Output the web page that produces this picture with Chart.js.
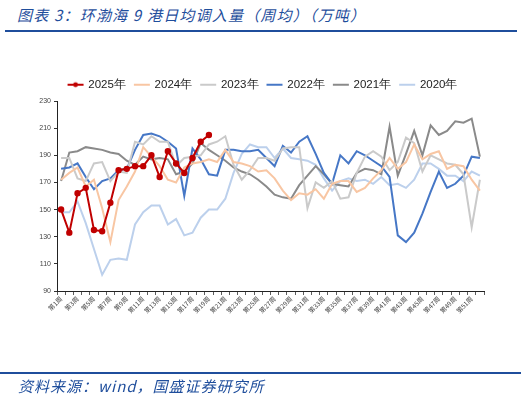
<!DOCTYPE html>
<html>
<head>
<meta charset="utf-8">
<script src="https://cdn.jsdelivr.net/npm/chart.js@4"></script>
<style>
  body { margin: 0; background: #fff; width: 526px; height: 398px; overflow: hidden; position: relative; }
  #titulo { position: absolute; left: 17px; top: 4px; font: italic 15px "Noto Sans CJK SC", sans-serif; color: #1f4e9c; letter-spacing: 1.2px; }
  #linhaTopo { position: absolute; left: 5px; top: 30px; width: 512px; height: 2px; background: #1f4e9c; }
  #linhaBase { position: absolute; left: 0px; top: 372px; width: 521px; height: 2px; background: #1f4e9c; }
  #fonte { position: absolute; left: 18px; top: 375px; font: italic 15px "Noto Sans CJK SC", sans-serif; color: #1f4e9c; letter-spacing: 1px; }
  #grafico { position: absolute; left: 0; top: 0; }
</style>
</head>
<body>
<div id="titulo">图表 3：环渤海 9 港日均调入量（周均）（万吨）</div>
<div id="linhaTopo"></div>
<canvas id="grafico" width="526" height="398"></canvas>
<div id="linhaBase"></div>
<div id="fonte">资料来源：wind，国盛证券研究所</div>
<script>
// semanas 1..52
const semanas = [];
for (let i = 1; i <= 52; i++) semanas.push("第" + i + "周");

const anos = ["2025年", "2024年", "2023年", "2022年", "2021年", "2020年"];
const cores = ["#c00000", "#f8c6a3", "#cacaca", "#4677c6", "#8a8a8a", "#bcd0ec"];

const dados2025 = [150, 133, 162, 166, 135, 134, 155, 179, 180, 182, 182, 190, 174, 193, 184, 177, 188, 200, 205];
const dados2024 = [172, 177, 181, 167, 172, 151, 126, 157, 167, 178, 196, 189, 182, 172, 170, 181, 184, 185,
  187, 185, 194, 185, 184, 182, 178, 179, 173, 164, 157, 162, 161, 165, 158, 169, 171, 171, 163, 166, 173, 179,
  188, 180, 185, 198, 187, 191, 193, 180, 183, 182, 172, 164];
const dados2023 = [188, 188, 173, 171, 184, 185, 171, 178, 177, 200, 198, 204, 200, 200, 182, 188, 189, 190,
  198, 200, 204, 183, 172, 179, 188, 188, 186, 195, 196, 196, 151, 170, 166, 171, 158, 159, 177, 189, 193, 189,
  179, 185, 203, 199, 178, 190, 187, 184, 183, 176, 137, 172];
const dados2022 = [180, 181, 184, 174, 165, 171, 173, 179, 180, 194, 205, 206, 204, 200, 195, 160, 195, 187,
  176, 175, 194, 194, 193, 193, 194, 188, 182, 197, 192, 200, 204, 191, 177, 169, 190, 184, 193, 190, 186, 182,
  174, 131, 126, 133, 147, 163, 178, 166, 169, 175, 189, 188];
const dados2021 = [171, 192, 193, 196, 195, 194, 192, 191, 186, 183, 189, 187, 188, 187, 176, 178, 184, 199,
  194, 190, 186, 181, 178, 176, 172, 167, 161, 159, 158, 168, 175, 182, 176, 169, 168, 167, 177, 180, 179, 176,
  211, 175, 191, 208, 190, 212, 205, 208, 215, 214, 217, 189];
const dados2020 = [148, 148, 156, 140, 121, 102, 113, 114, 113, 139, 148, 153, 153, 139, 143, 131, 133, 144,
  150, 150, 158, 177, 191, 198, 196, 196, 188, 195, 188, 187, 186, 183, 173, 164, 171, 173, 171, 172, 169, 174,
  168, 169, 166, 172, 184, 184, 180, 175, 175, 171, 178, 175];

const series = [dados2025, dados2024, dados2023, dados2022, dados2021, dados2020];

// desenha o simbolo da legenda (linha, e marcador no 2025)
function simboloLegenda(cor, comMarcador) {
  const c = document.createElement("canvas");
  c.width = 18;
  c.height = 8;
  const ctx = c.getContext("2d");
  ctx.strokeStyle = cor;
  ctx.lineWidth = 2;
  ctx.beginPath();
  ctx.moveTo(1, 4);
  ctx.lineTo(17, 4);
  ctx.stroke();
  if (comMarcador) {
    ctx.fillStyle = cor;
    ctx.beginPath();
    ctx.arc(9, 4, 2.4, 0, Math.PI * 2);
    ctx.fill();
  }
  return c;
}

let datasets = [];
for (let i = 0; i < series.length; i++) {
  datasets.push({
    label: anos[i],
    data: series[i],
    borderColor: cores[i],
    backgroundColor: cores[i],
    borderWidth: 2,
    fill: false,
    tension: 0,
    pointRadius: i == 0 ? 2.2 : 0,
    pointHoverRadius: 0,
    pointStyle: "circle",
  });
}

// altura fixa da legenda e um pequeno deslocamento para a direita
const ajusteLegenda = {
  id: "ajusteLegenda",
  beforeInit(chart) {
    const fitOriginal = chart.legend.fit;
    chart.legend.fit = function () {
      fitOriginal.bind(chart.legend)();
      this.height = 31;
    };
  },
  afterLayout(chart) {
    chart.legend.left += 8;
    chart.legend.right += 8;
  },
};

const config = {
  type: "line",
  data: { labels: semanas, datasets: datasets },
  options: {
    responsive: false,
    animation: false,
    layout: { padding: { top: 70, left: 26, right: 42, bottom: 67 } },
    plugins: {
      legend: {
        display: true,
        position: "top",
        labels: {
          usePointStyle: true,
          pointStyleWidth: 14,
          padding: 9,
          color: "#222",
          font: { family: "Liberation Sans, Arial, sans-serif", size: 11.5 },
          generateLabels(chart) {
            return chart.data.datasets.map((ds, i) => ({
              text: ds.label,
              fillStyle: ds.borderColor,
              strokeStyle: ds.borderColor,
              lineWidth: 0,
              pointStyle: simboloLegenda(ds.borderColor, i == 0),
              fontColor: "#222",
              datasetIndex: i,
            }));
          },
        },
      },
      tooltip: { enabled: false },
    },
    scales: {
      x: {
        offset: true,
        afterFit(scale) { scale.height = 40; },
        grid: { display: true, offset: true, drawOnChartArea: false, drawTicks: true, tickLength: 4, color: "#333", tickWidth: 0.8 },
        border: { display: true, color: "#222", width: 1 },
        ticks: {
          autoSkip: false,
          maxRotation: 45,
          minRotation: 45,
          padding: 0,
          color: "#444",
          font: { family: "Noto Sans CJK SC", size: 6.5 },
          callback: function (valor, indice) {
            return indice % 2 == 0 ? semanas[indice] : "";
          },
        },
      },
      y: {
        min: 90,
        max: 230,
        afterFit(scale) { scale.width = 31; },
        grid: { display: true, drawOnChartArea: false, drawTicks: true, tickLength: 3, color: "#333" },
        border: { display: true, color: "#222", width: 1 },
        ticks: {
          stepSize: 20,
          padding: 3,
          color: "#444",
          font: { family: "Liberation Sans, Arial, sans-serif", size: 7 },
        },
      },
    },
  },
  plugins: [ajusteLegenda],
};

let grafico = new Chart(document.getElementById("grafico"), config);
</script>
</body>
</html>
